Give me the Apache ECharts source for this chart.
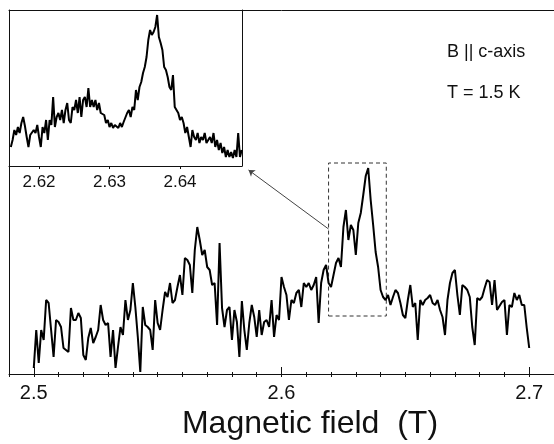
<!DOCTYPE html>
<html>
<head>
<meta charset="utf-8">
<script src="https://cdn.jsdelivr.net/npm/echarts@6/dist/echarts.min.js"></script>
<style>
  html, body { margin: 0; padding: 0; background: #fff; }
  #chart { width: 554px; height: 444px; }
</style>
</head>
<body>
<div id="chart"></div>
<script>
// main scan, field in T, signal in arbitrary units
const mainField = [
  2.500,2.501,2.502,2.503,2.504,2.505,2.506,2.507,2.508,2.509,
  2.510,2.511,2.512,2.513,2.514,2.515,2.516,2.517,2.518,2.519,
  2.520,2.521,2.522,2.523,2.524,2.525,2.526,2.527,2.528,2.529,
  2.530,2.531,2.532,2.533,2.534,2.535,2.536,2.537,2.538,2.539,
  2.540,2.541,2.542,2.543,2.544,2.545,2.546,2.547,2.548,2.549,
  2.550,2.551,2.552,2.553,2.554,2.555,2.556,2.557,2.558,2.559,
  2.560,2.561,2.562,2.563,2.564,2.565,2.566,2.567,2.568,2.569,
  2.570,2.571,2.572,2.573,2.574,2.575,2.576,2.577,2.578,2.579,
  2.580,2.581,2.582,2.583,2.584,2.585,2.586,2.587,2.588,2.589,
  2.590,2.591,2.592,2.593,2.594,2.595,2.596,2.597,2.598,2.599,
  2.600,2.601,2.602,2.603,2.604,2.605,2.606,2.607,2.608,2.609,
  2.610,2.611,2.612,2.613,2.614,2.615,2.616,2.617,2.618,2.619,
  2.620,2.621,2.622,2.623,2.624,2.625,2.626,2.627,2.628,2.629,
  2.630,2.631,2.632,2.633,2.634,2.635,2.636,2.637,2.638,2.639,
  2.640,2.641,2.642,2.643,2.644,2.645,2.646,2.647,2.648,2.649,
  2.650,2.651,2.652,2.653,2.654,2.655,2.656,2.657,2.658,2.659,
  2.660,2.661,2.662,2.663,2.664,2.665,2.666,2.667,2.668,2.669,
  2.670,2.671,2.672,2.673,2.674,2.675,2.676,2.677,2.678,2.679,
  2.680,2.681,2.682,2.683,2.684,2.685,2.686,2.687,2.688,2.689,
  2.690,2.691,2.692,2.693,2.694,2.695,2.696,2.697,2.698,2.699,
  2.700
];
const mainSignal = [
  6,44,11,44,34,74,71,44,17,54,
  52,47,26,24,22,66,54,54,61,56,
  19,14,36,46,31,37,44,69,54,49,
  51,17,44,6,27,47,39,74,54,64,
  91,67,37,2,67,49,47,44,24,74,
  51,44,64,82,77,91,71,74,87,99,
  79,116,114,109,81,124,147,134,119,124,
  107,104,89,91,49,131,66,47,64,67,
  34,64,52,17,73,44,24,51,69,57,
  37,64,39,52,54,47,74,37,59,54,
  97,87,79,54,74,71,81,84,67,91,
  87,91,84,89,97,51,91,104,109,91,
  87,99,111,116,107,147,164,134,149,144,
  119,151,161,179,198,206,174,149,122,107,
  84,77,74,79,69,77,84,81,71,59,
  56,74,89,67,71,34,74,69,74,76,
  79,71,69,74,64,57,39,74,91,101,
  104,79,59,89,87,84,77,47,29,76,
  74,77,86,94,92,69,94,64,68,72,
  74,39,69,67,81,74,79,69,69,46,
  26
];

// zoomed scan shown in the inset
const insetField = [
  2.61600,2.61625,2.61650,2.61675,2.61700,2.61725,2.61750,2.61775,2.61800,2.61825,
  2.61850,2.61875,2.61900,2.61925,2.61950,2.61975,2.62000,2.62025,2.62050,2.62075,
  2.62100,2.62125,2.62150,2.62175,2.62200,2.62225,2.62250,2.62275,2.62300,2.62325,
  2.62350,2.62375,2.62400,2.62425,2.62450,2.62475,2.62500,2.62525,2.62550,2.62575,
  2.62600,2.62625,2.62650,2.62675,2.62700,2.62725,2.62750,2.62775,2.62800,2.62825,
  2.62850,2.62875,2.62900,2.62925,2.62950,2.62975,2.63000,2.63025,2.63050,2.63075,
  2.63100,2.63125,2.63150,2.63175,2.63200,2.63225,2.63250,2.63275,2.63300,2.63325,
  2.63350,2.63375,2.63400,2.63425,2.63450,2.63475,2.63500,2.63525,2.63550,2.63575,
  2.63600,2.63625,2.63650,2.63675,2.63700,2.63725,2.63750,2.63775,2.63800,2.63825,
  2.63850,2.63875,2.63900,2.63925,2.63950,2.63975,2.64000,2.64025,2.64050,2.64075,
  2.64100,2.64125,2.64150,2.64175,2.64200,2.64225,2.64250,2.64275,2.64300,2.64325,
  2.64350,2.64375,2.64400,2.64425,2.64450,2.64475,2.64500,2.64525,2.64550,2.64575,
  2.64600,2.64625,2.64650,2.64675,2.64700,2.64725,2.64750,2.64775,2.64800,2.64825,
  2.64850,2.64875
];
const insetSignal = [
  19,26,36,31,39,33,43,49,40,29,
  19,31,29,36,33,41,29,19,39,33,
  46,26,46,41,69,39,49,53,46,56,
  43,56,63,46,43,59,56,66,53,69,
  49,66,69,59,78,59,66,59,66,56,
  63,53,51,51,43,46,39,43,38,41,
  39,38,43,39,44,46,53,56,49,59,
  56,76,66,79,84,93,99,109,126,136,
  131,134,139,151,129,123,116,99,96,89,
  79,76,91,59,56,53,46,49,43,33,
  39,29,19,36,29,26,33,23,29,26,
  33,23,26,29,23,33,19,26,16,23,
  13,19,9,16,9,14,8,16,9,33,
  9,16
];

const mainTicks = [2.5, 2.6, 2.7];
const insetTicks = [2.62, 2.63, 2.64];
// dashed box marking the zoomed region, and the arrow towards the inset
const zoomBox = [[2.619, 58], [2.6423, 211]];
const arrowFrom = [2.619, 145];
const arrowTo = [2.5867, 204];

const font = 'Liberation Sans, Arial, sans-serif';
const ink = '#111';

function pairs(xs, ys) {
  return xs.map(function (x, i) { return [x, ys[i]]; });
}

var chart = echarts.init(document.getElementById('chart'));
var option = {
  animation: false,
  backgroundColor: '#fff',
  grid: [
    { left: 9, top: 10, width: 545, height: 364 },
    { left: 9, top: 10, width: 233, height: 156 }
  ],
  xAxis: [
    {
      gridIndex: 0, type: 'value', position: 'bottom', min: 2.49, max: 2.71,
      axisLine: { onZero: false, lineStyle: { color: ink, width: 1 } },
      axisTick: { customValues: mainTicks, inside: true, length: 7, lineStyle: { color: ink } },
      axisLabel: { customValues: mainTicks, margin: 9, fontSize: 20, color: ink, fontFamily: font },
      splitLine: { show: false }
    },
    {
      gridIndex: 0, type: 'value', position: 'bottom', min: 2.49, max: 2.71, interval: 0.01,
      axisLine: { show: false, onZero: false },
      axisTick: { inside: false, length: 3, lineStyle: { color: ink } },
      axisLabel: { show: false }, splitLine: { show: false }
    },
    {
      gridIndex: 0, type: 'value', position: 'bottom', min: 2.49, max: 2.71, interval: 0.01,
      axisLine: { show: false, onZero: false },
      axisTick: { inside: true, length: 2, lineStyle: { color: ink } },
      axisLabel: { show: false }, splitLine: { show: false }
    },
    {
      gridIndex: 0, type: 'value', position: 'top', min: 2.49, max: 2.71,
      axisLine: { onZero: false, lineStyle: { color: ink, width: 1 } },
      axisTick: { show: false }, axisLabel: { show: false }, splitLine: { show: false }
    },
    {
      gridIndex: 1, type: 'value', position: 'bottom', min: 2.61574, max: 2.64879,
      axisLine: { onZero: false, lineStyle: { color: ink, width: 1 } },
      axisTick: { customValues: insetTicks, inside: false, length: 3, lineStyle: { color: ink } },
      axisLabel: { customValues: insetTicks, margin: 8, fontSize: 17, color: ink, fontFamily: font },
      splitLine: { show: false }
    }
  ],
  yAxis: [
    {
      gridIndex: 0, type: 'value', position: 'left', min: 0, max: 364,
      axisLine: { show: true, onZero: false, lineStyle: { color: ink, width: 1 } },
      axisTick: { show: false }, axisLabel: { show: false }, splitLine: { show: false }
    },
    {
      gridIndex: 1, type: 'value', position: 'left', min: 0, max: 156,
      axisLine: { show: false }, axisTick: { show: false },
      axisLabel: { show: false }, splitLine: { show: false }
    },
    {
      gridIndex: 1, type: 'value', position: 'right', min: 0, max: 156,
      axisLine: { show: true, onZero: false, lineStyle: { color: ink, width: 1 } },
      axisTick: { show: false }, axisLabel: { show: false }, splitLine: { show: false }
    }
  ],
  series: [
    {
      type: 'line', xAxisIndex: 0, yAxisIndex: 0,
      data: pairs(mainField, mainSignal),
      showSymbol: false, symbol: 'none',
      lineStyle: { color: '#000', width: 2 },
      emphasis: { disabled: true },
      markArea: {
        silent: true,
        label: { show: false },
        itemStyle: { color: 'rgba(0,0,0,0)', borderColor: '#333', borderWidth: 1, borderType: [4, 3] },
        data: [[{ coord: zoomBox[0] }, { coord: zoomBox[1] }]]
      },
      markLine: {
        silent: true,
        symbol: ['none', 'arrow'],
        symbolSize: 6,
        label: { show: false },
        lineStyle: { color: '#444', width: 1, type: 'solid' },
        data: [[{ coord: arrowFrom }, { coord: arrowTo }]]
      }
    },
    {
      type: 'line', xAxisIndex: 4, yAxisIndex: 1,
      data: pairs(insetField, insetSignal),
      showSymbol: false, symbol: 'none',
      lineStyle: { color: '#000', width: 2 },
      emphasis: { disabled: true }
    }
  ],
  graphic: [
    {
      type: 'text', x: 447, y: 52,
      style: { text: 'B || c-axis', font: '18px ' + font, fill: ink, verticalAlign: 'middle' }
    },
    {
      type: 'text', x: 447, y: 93,
      style: { text: 'T = 1.5 K', font: '18px ' + font, fill: ink, verticalAlign: 'middle' }
    },
    {
      type: 'text', x: 310, y: 424,
      style: { text: 'Magnetic field  (T)', font: '32px ' + font, fill: ink, align: 'center', verticalAlign: 'middle' }
    }
  ]
};
chart.setOption(option);
window.addEventListener('resize', function () {
  chart.resize();
});
</script>
</body>
</html>
